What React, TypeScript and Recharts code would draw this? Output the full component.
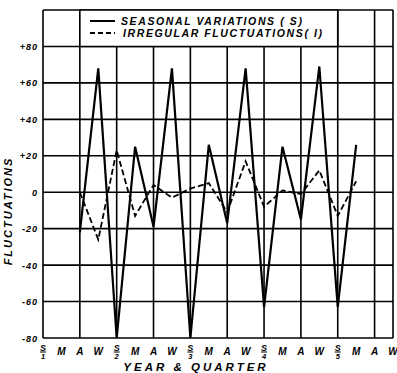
import React from 'react';
import {
  LineChart, Line, XAxis, YAxis, CartesianGrid, ReferenceArea, Legend,
} from 'recharts';

// x positions: quarter index 0..19 (5 years x 4 quarters)
const quarterIndex = [0, 1, 2, 3, 4, 5, 6, 7, 8, 9, 10, 11, 12, 13, 14, 15, 16, 17, 18, 19];
const quarterLabels = ['S', 'M', 'A', 'W', 'S', 'M', 'A', 'W', 'S', 'M', 'A', 'W', 'S', 'M', 'A', 'W', 'S', 'M', 'A', 'W'];
const yearLabels = ['1', '', '', '', '2', '', '', '', '3', '', '', '', '4', '', '', '', '5', '', '', ''];

const seasonal = [null, null, -22, 68, -80, 25, -19, 68, -80, 26, -17, 68, -63, 25, -15, 69, -63, 26, null, null];
const irregular = [null, null, 0, -26, 23, -13, 4, -3, 2, 5, -11, 17, -8, 1, -1, 12, -13, 6, null, null];

const yTicks = [-80, -60, -40, -20, 0, 20, 40, 60, 80];
const gridY = [-80, -60, -40, -20, 0, 20, 40, 60, 80, 100];
const gridX = [0, 2, 4, 6, 8, 10, 12, 14, 16, 18, 19];

const seriesNames: Record<string, string> = { s: 'SEASONAL VARIATIONS  ( S)', i: 'IRREGULAR FLUCTUATIONS( I)' };
const legendOrder = ['s', 'i'];

const data = quarterIndex.map((q, k) => ({ q, s: seasonal[k], i: irregular[k] }));

const FONT = '"Liberation Sans", Arial, sans-serif';

const XTick = (props: any) => {
  const { x, payload } = props;
  const i = payload.value as number;
  const yr = yearLabels[i];
  if (yr) {
    return (
      <g>
        <text x={x} y={350.5} textAnchor="middle" fontFamily={FONT} fontWeight="bold" fontStyle="italic" fontSize={9}>{quarterLabels[i]}</text>
        <line x1={x - 3} x2={x + 3} y1={352} y2={352} stroke="#000" strokeWidth={1} />
        <text x={x} y={359} textAnchor="middle" fontFamily={FONT} fontWeight="bold" fontStyle="italic" fontSize={7.5}>{yr}</text>
      </g>
    );
  }
  return (
    <text x={x} y={355} textAnchor="middle" fontFamily={FONT} fontWeight="bold" fontStyle="italic" fontSize={10}>{quarterLabels[i]}</text>
  );
};

const YTick = (props: any) => {
  const { y, payload } = props;
  const v = payload.value as number;
  const t = v > 0 ? '+' + v : v < 0 ? '-' + Math.abs(v) : '0';
  return (
    <text x={38} y={y + 3.5} textAnchor="end" fontFamily={FONT} fontWeight="bold" fontStyle="italic" fontSize={9} letterSpacing={1}>{t}</text>
  );
};

const LegendContent = (props: any) => {
  const payload = (props.payload || []).slice().sort(
    (a: any, b: any) => legendOrder.indexOf(a.dataKey) - legendOrder.indexOf(b.dataKey));
  return (
    <svg width={260} height={30}>
      {payload.map((p: any, k: number) => (
        <g key={k}>
          <line x1={0} x2={25} y1={6 + k * 12} y2={6 + k * 12} stroke="#000" strokeWidth={2}
            strokeDasharray={p.dataKey === 'i' ? '5 3' : undefined} />
          <text x={31 + k * 2} y={10 + k * 12} fontFamily={FONT} fontWeight="bold" fontStyle="italic" fontSize={10.5} letterSpacing={1.6}>{p.value}</text>
        </g>
      ))}
    </svg>
  );
};

export default function App() {
  return (
    <div style={{ position: 'absolute', left: 0, top: 0, background: '#fff' }}>
      <LineChart width={397} height={373} data={data} margin={{ top: 10, right: 4, left: 0, bottom: 0 }}>
        <CartesianGrid stroke="#000" strokeWidth={1.6} verticalValues={gridX} horizontalValues={gridY} />
        <ReferenceArea x1={2} x2={16} y1={80} y2={100} fill="#fff" fillOpacity={1} stroke="#000" strokeWidth={1.6} ifOverflow="visible" />
        <XAxis dataKey="q" type="number" domain={[0, 19]} ticks={quarterIndex} interval={0}
          axisLine={false} tickLine={false} height={35} tick={<XTick />}
          label={{ content: () => (
            <text x={196} y={370.5} textAnchor="middle" fontFamily={FONT} fontWeight="bold" fontStyle="italic" fontSize={11.5} letterSpacing={3}>YEAR  &amp;  QUARTER</text>
          ) }} />
        <YAxis type="number" domain={[-80, 100]} ticks={yTicks} interval={0} width={43}
          axisLine={false} tickLine={false} tick={<YTick />}
          label={{ content: () => (
            <text transform="rotate(-90, 12, 211)" x={12} y={211} textAnchor="middle" fontFamily={FONT} fontWeight="bold" fontStyle="italic" fontSize={11} letterSpacing={2}>FLUCTUATIONS</text>
          ) }} />
        <Legend layout="vertical" align="center" verticalAlign="middle" content={<LegendContent />}
          wrapperStyle={{ position: 'absolute', top: 15, left: 90, width: 260, height: 30 }} />
        <Line dataKey="s" name={seriesNames.s} stroke="#000" strokeWidth={2.2} dot={false} isAnimationActive={false} connectNulls={false} />
        <Line dataKey="i" name={seriesNames.i} stroke="#000" strokeWidth={1.8} strokeDasharray="6 3" dot={false} isAnimationActive={false} connectNulls={false} />
      </LineChart>
    </div>
  );
}
